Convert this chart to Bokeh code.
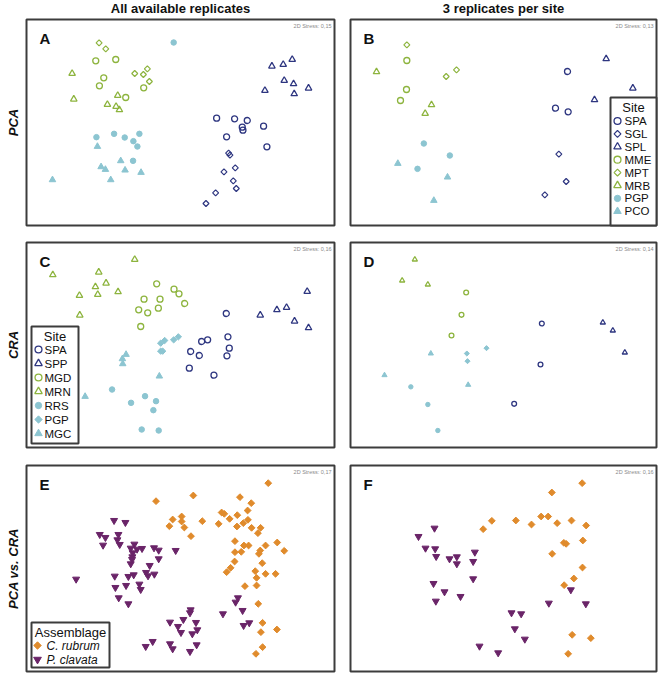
import numpy as np
from bokeh.plotting import figure
from bokeh.layouts import row, column
from bokeh.models import Range1d
from bokeh.core.properties import value
from bokeh.embed import file_html
from bokeh.resources import INLINE

FONT = value("Liberation Sans")
NAVY = "#2e3680"
GREEN = "#8db43e"
TEAL = "#8cc5d1"
ORANGE = "#e08b2c"
PURPLE = "#6a2468"
FRAME = "#3c3c3c"

# ---- nMDS scores (arbitrary ordination units, y grows downward) ----
# Panel A: PCA, all replicates
A_SPA = [(648,353),(702,355),(740,360),(725,380),(727,389),(789,377),(678,409),(799,439)]
A_SGL = [(684,458),(688,464),(704,502),(670,514),(698,541),(707,564),(645,577),(616,609)]
A_SPL = [(814,197),(848,192),(875,177),(851,240),(879,250),(924,263),(881,280),(793,270)]
A_MME = [(285,181),(345,177),(309,232),(296,256),(429,262),(375,291)]
A_MPT = [(295,127),(315,145),(402,219),(428,222),(440,205),(446,243)]
A_MRB = [(214,219),(219,296),(351,285),(320,312),(346,318),(356,328)]
A_PGP = [(519,126),(287,410),(340,400),(372,411),(416,400),(398,422),(410,438),(397,481)]
A_PCO = [(290,438),(155,538),(301,499),(314,507),(360,481),(373,509),(421,516),(330,538)]
# Panel B: PCA, 3 replicates per site
B_SPA = [(708,213),(672,323),(710,334)]
B_SGL = [(682,461),(704,543),(640,583)]
B_SPL = [(824,175),(904,263),(789,298)]
B_MME = [(226,180),(225,267),(207,300)]
B_MPT = [(226,133),(344,228),(375,208)]
B_MRB = [(135,214),(300,313),(281,339)]
B_PGP = [(277,429),(355,465),(258,505)]
B_PCO = [(199,489),(348,530),(307,600)]
# Panel C: CRA, all replicates
C_SPA = [(677,279),(603,363),(621,358),(682,349),(686,383),(679,406),(570,393),(596,405),(566,443),(640,464)]
C_SPP = [(920,213),(779,284),(829,268),(858,261),(882,302),(924,322)]
C_MGD = [(468,190),(520,206),(535,220),(430,236),(478,236),(552,249),(414,268),(441,277),(473,263),(420,318)]
C_MRN = [(402,117),(156,163),(294,155),(316,188),(284,199),(291,222),(352,214),(236,225),(237,284)]
C_RRS = [(334,507),(391,547),(433,527),(466,542),(458,569),(423,627),(474,630)]
C_PGP = [(480,368),(492,360),(519,358),(533,349),(480,392),(486,392)]
C_MGC = [(376,402),(365,415),(366,430),(476,467),(253,528)]
# Panel D: CRA, 3 replicates per site
D_SPA = [(631,309),(627,432),(548,550)]
D_SPP = [(814,306),(844,330),(880,396)]
D_MGD = [(404,216),(390,283),(360,345)]
D_MRN = [(250,117),(212,180),(289,192)]
D_RRS = [(238,499),(289,552),(319,630)]
D_PGP = [(465,383),(406,399),(408,422)]
D_MGC = [(298,399),(159,464),(410,493)]
# Panel E: PCA vs CRA, all replicates
E_CRU = [(803,98),(578,135),(466,152),(718,140),(752,158),(741,180),(663,186),(671,190),(710,194),
         (687,205),(728,218),(742,208),(516,207),(543,198),(543,213),(605,212),(654,220),(506,227),
         (551,231),(709,228),(753,232),(780,232),(772,248),(571,257),(703,272),(730,285),(744,285),
         (703,305),(722,304),(775,310),(779,300),(795,285),(830,276),(851,301),(702,333),(690,352),
         (678,365),(785,338),(764,362),(768,382),(795,370),(825,370),(733,407),(768,405),(773,460),
         (786,517),(781,545),(829,537),(786,590),(766,610)]
E_PCL = [(340,210),(374,216),(297,252),(314,261),(353,252),(307,284),(350,268),(357,282),(401,281),
         (390,293),(409,296),(424,294),(396,307),(395,319),(394,327),(390,340),(460,292),(474,299),
         (474,325),(525,300),(447,345),(436,366),(442,376),(461,371),(226,386),(342,377),(383,378),
         (399,373),(376,405),(416,401),(420,417),(344,411),(354,442),(383,460),(570,478),(568,487),
         (667,490),(712,442),(705,455),(726,480),(548,507),(508,515),(532,528),(586,516),(590,538),
         (541,546),(575,550),(729,525),(746,517),(435,588),(456,573),(508,580),(516,595),(568,603),
         (588,583)]
# Panel F: PCA vs CRA, 3 replicates per site
F_CRU = [(752,98),(661,126),(481,211),(553,210),(455,236),(600,222),(629,198),(650,198),(677,218),
         (720,210),(764,225),(754,270),(697,277),(704,280),(662,310),(753,351),(727,384),(698,404),
         (722,553),(778,563),(710,610)]
F_PCL = [(309,233),(261,258),(282,293),(311,295),(314,318),(354,325),(376,319),(376,340),(430,305),
         (425,333),(425,385),(306,399),(339,424),(387,438),(313,452),(718,418),(652,458),(763,460),
         (540,487),(569,490),(550,535),(580,566),(444,587),(500,607)]

STRESS = {"A": "0,15", "B": "0,13", "C": "0,16", "D": "0,14", "E": "0,17", "F": "0,16"}
COL_TITLES = ["All available replicates", "3 replicates per site"]
ROW_TITLES = ["PCA", "CRA", "PCA vs. CRA"]
SITES_PCA = ["SPA", "SGL", "SPL", "MME", "MPT", "MRB", "PGP", "PCO"]
SITES_CRA = ["SPA", "SPP", "MGD", "MRN", "RRS", "PGP", "MGC"]
ASSEMBLAGES = ["C. rubrum", "P. clavata"]

# frame extents of each ordination panel in score units (x0, x1, y0, y1)
EXTENT = {"A": (77, 1002, 57, 675), "B": (57, 975, 57, 675),
          "C": (77, 1002, 66, 681), "D": (57, 975, 66, 681),
          "E": (77, 1002, 45, 663), "F": (57, 975, 45, 663)}

STYLES = {
    "o_navy": dict(marker="circle", fill_color=None, line_color=NAVY, line_width=1.3, size=6),
    "d_navy": dict(marker="square", angle=np.pi/4, fill_color=None, line_color=NAVY, line_width=1.2, size=4.2),
    "t_navy": dict(marker="triangle", fill_color=None, line_color=NAVY, line_width=1.3, size=6.5),
    "o_green": dict(marker="circle", fill_color=None, line_color=GREEN, line_width=1.3, size=6),
    "d_green": dict(marker="square", angle=np.pi/4, fill_color=None, line_color=GREEN, line_width=1.2, size=4.2),
    "t_green": dict(marker="triangle", fill_color=None, line_color=GREEN, line_width=1.3, size=6.5),
    "o_teal": dict(marker="circle", fill_color=TEAL, line_color=TEAL, line_width=1, size=5.5),
    "d_teal": dict(marker="square", angle=np.pi/4, fill_color=TEAL, line_color=TEAL, line_width=1, size=4.5),
    "t_teal": dict(marker="triangle", fill_color=TEAL, line_color=TEAL, line_width=1, size=6.5),
    "d_orange": dict(marker="square", angle=np.pi/4, fill_color=ORANGE, line_color=ORANGE, line_width=1, size=4.8),
    "v_purple": dict(marker="inverted_triangle", fill_color=PURPLE, line_color=PURPLE, line_width=1, size=7),
}
PCA_STYLE = {"SPA": "o_navy", "SGL": "d_navy", "SPL": "t_navy", "MME": "o_green", "MPT": "d_green",
             "MRB": "t_green", "PGP": "o_teal", "PCO": "t_teal"}
CRA_STYLE = {"SPA": "o_navy", "SPP": "t_navy", "MGD": "o_green", "MRN": "t_green", "RRS": "o_teal",
             "PGP": "d_teal", "MGC": "t_teal"}
ASM_STYLE = {"C. rubrum": "d_orange", "P. clavata": "v_purple"}


def make_panel(key, fig_w, fig_h, frame):
    l, t, r, b = frame
    dx0, dx1, dy0, dy1 = EXTENT[key]
    sx = (dx1 - dx0) / (r - l)
    sy = (dy1 - dy0) / (b - t)
    xs = dx0 - l * sx
    yt = dy0 - t * sy
    p = figure(width=fig_w, height=fig_h, x_range=Range1d(xs, xs + fig_w * sx),
               y_range=Range1d(yt + fig_h * sy, yt), output_backend="svg",
               toolbar_location=None, x_axis_location=None, y_axis_location=None,
               min_border=0, outline_line_color=None, title=None)
    p.grid.visible = False
    X = lambda px: xs + px * sx
    Y = lambda py: yt + py * sy
    p.quad(left=[dx0], right=[dx1], top=[dy0], bottom=[dy1], fill_color=None,
           line_color=FRAME, line_width=2)
    # panel letter and stress value
    p.text(x=[X(l + 13)], y=[Y(t + 10)], text=[key], text_font=FONT, text_font_size="15px",
           text_font_style="bold", text_color="#111111", text_align="left", text_baseline="top")
    p.text(x=[X(r - 3)], y=[Y(t + 3)], text=["2D Stress: " + STRESS[key]], text_font=FONT,
           text_font_size="5.5px", text_color="#8a8a8a", text_align="right", text_baseline="top")
    return p, X, Y


def pts(p, data, style, scale=1.0):
    st = dict(STYLES[style])
    st["size"] = st["size"] * scale
    p.scatter(x=[d[0] for d in data], y=[d[1] for d in data], **st)


def draw_legend(p, X, Y, box, title, labels, styles, first, step, mx, tx, size_scale, font_size, italic=False):
    bl, bt, br, bb = box
    p.quad(left=[X(bl)], right=[X(br)], top=[Y(bt)], bottom=[Y(bb)], fill_color="white",
           line_color=FRAME, line_width=2)
    p.text(x=[X((bl + br) / 2)], y=[Y(bt + 10)], text=[title], text_font=FONT, text_font_size="13px",
           text_color="#111111", text_align="center", text_baseline="middle")
    for i, lab in enumerate(labels):
        st = dict(STYLES[styles[lab]])
        st["size"] = st["size"] * size_scale
        p.scatter(x=[X(bl + mx)], y=[Y(bt + first + step * i)], **st)
        p.text(x=[X(bl + tx)], y=[Y(bt + first + step * i)], text=[lab], text_font=FONT,
               text_font_size=font_size, text_font_style="italic" if italic else "normal",
               text_color="#111111", text_align="left", text_baseline="middle")


LW, RW = 342, 318
HEIGHTS = [233, 223, 218]
FRAMES_Y = [(19, 225), (9, 214), (9, 215)]
LFR = (26, 334)
RFR = (8, 314)

figs = []
for ri, (left_key, right_key) in enumerate([("A", "B"), ("C", "D"), ("E", "F")]):
    h = HEIGHTS[ri]
    t, b = FRAMES_Y[ri]
    pl, XL, YL = make_panel(left_key, LW, h, (LFR[0], t, LFR[1], b))
    pr, XR, YR = make_panel(right_key, RW, h, (RFR[0], t, RFR[1], b))
    # row label
    pl.text(x=[XL(13)], y=[YL((t + b) / 2)], text=[ROW_TITLES[ri]], text_font=FONT, text_font_size="13px",
            text_font_style="bold italic", text_color="#111111", text_align="center",
            text_baseline="middle", angle=np.pi / 2)
    if ri == 0:
        pl.text(x=[XL((LFR[0] + LFR[1]) / 2)], y=[YL(8)], text=[COL_TITLES[0]], text_font=FONT,
                text_font_size="13px", text_font_style="bold", text_color="#111111",
                text_align="center", text_baseline="middle")
        pr.text(x=[XR((RFR[0] + RFR[1]) / 2)], y=[YR(8)], text=[COL_TITLES[1]], text_font=FONT,
                text_font_size="13px", text_font_style="bold", text_color="#111111",
                text_align="center", text_baseline="middle")
        for site in SITES_PCA:
            pts(pl, globals()["A_" + site], PCA_STYLE[site])
            pts(pr, globals()["B_" + site], PCA_STYLE[site])
        draw_legend(pr, XR, YR, (RFR[1] - 46, b - 128, RFR[1], b), "Site", SITES_PCA, PCA_STYLE,
                    23.5, 12.9, 7, 14, 1.15, "11.5px")
    elif ri == 1:
        for site in SITES_CRA:
            pts(pl, globals()["C_" + site], CRA_STYLE[site])
            pts(pr, globals()["D_" + site], CRA_STYLE[site], 0.8)
        draw_legend(pl, XL, YL, (LFR[0] + 5, b - 121, LFR[0] + 52, b - 4), "Site", SITES_CRA, CRA_STYLE,
                    23, 14, 7, 13, 1.15, "11.5px")
    else:
        pts(pl, E_CRU, "d_orange")
        pts(pl, E_PCL, "v_purple")
        pts(pr, F_CRU, "d_orange")
        pts(pr, F_PCL, "v_purple")
        draw_legend(pl, XL, YL, (LFR[0] + 5, b - 49, LFR[0] + 83, b - 4), "Assemblage", ASSEMBLAGES,
                    ASM_STYLE, 23, 14, 6, 15, 1.1, "12px", italic=True)
    figs.append(row(pl, pr))

layout = column(*figs)
open("out.html", "w").write(file_html(layout, INLINE))
